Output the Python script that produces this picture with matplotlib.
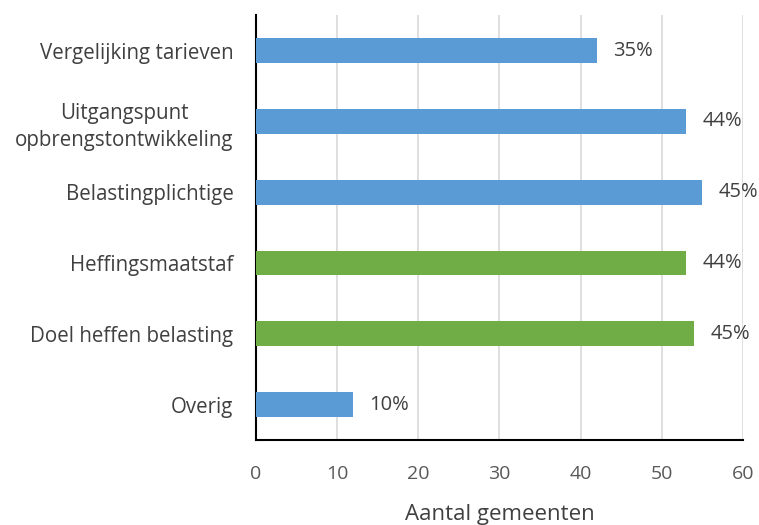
import matplotlib
matplotlib.use("Agg")
import matplotlib.pyplot as plt

categories = ["Vergelijking tarieven", "Uitgangspunt\nopbrengstontwikkeling", "Belastingplichtige",
              "Heffingsmaatstaf", "Doel heffen belasting", "Overig"]
values = [42, 53, 55, 53, 54, 12]
pct_labels = ["35%", "44%", "45%", "44%", "45%", "10%"]
colors = ["#5B9BD5", "#5B9BD5", "#5B9BD5", "#70AD47", "#70AD47", "#5B9BD5"]
xticks = [0, 10, 20, 30, 40, 50, 60]

plt.rcParams['font.family'] = ['Open Sans', 'DejaVu Sans']
fig = plt.figure(figsize=(7.59, 5.25), dpi=100)
ax = fig.add_axes([0.337, 0.162, 0.642, 0.809])

ypos = list(range(len(categories)))
ax.barh(ypos, values, height=0.35, color=colors, zorder=3)
for y, v, t in zip(ypos, values, pct_labels):
    ax.text(v + 2, y, t, va='center', ha='left', fontsize=14.5, color='#404040')

ax.set_ylim(len(categories) - 0.5, -0.5)
ax.set_xlim(0, 60)
ax.set_xticks(xticks)
ax.set_yticks(ypos)
ax.set_yticklabels(categories, fontsize=14.8, color='#404040', multialignment='center',
                   linespacing=1.4)
ax.tick_params(axis='x', labelsize=14, colors='#595959', length=0, pad=18)
ax.tick_params(axis='y', length=0, pad=16)
ax.grid(axis='x', color='#D9D9D9', linewidth=1.2, zorder=0)
for s in ['top', 'right']:
    ax.spines[s].set_visible(False)
ax.spines['left'].set_color('black')
ax.spines['bottom'].set_color('black')
ax.spines['left'].set_linewidth(1.5)
ax.spines['bottom'].set_linewidth(1.5)
ax.set_xlabel("Aantal gemeenten", fontsize=16, color='#404040', labelpad=15)
fig.savefig("out.png", dpi=100)
